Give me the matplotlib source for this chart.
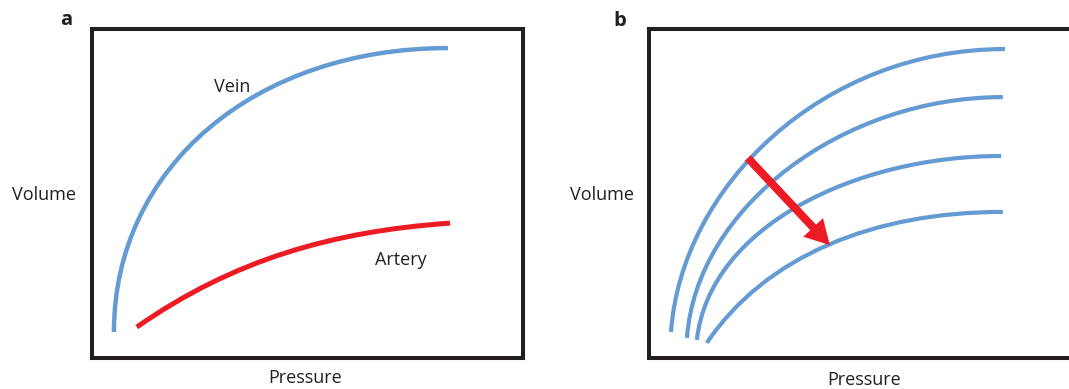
import matplotlib
matplotlib.use("Agg")
import matplotlib.pyplot as plt
from matplotlib.path import Path
from matplotlib.patches import FancyArrowPatch, PathPatch

plt.rcParams['font.family'] = ['Open Sans', 'DejaVu Sans']

BLUE = '#659BD3'
RED = '#ED1C24'
INK = '#231F20'

# Curves read off the picture as cubic Bezier control points
# (start, two handles, end), in % of the frame: pressure across, volume up.
# Panel a
veinP = [5.2, 5.2, 38.0, 82.6]
veinV = [7.9, 58.0, 94.2, 94.2]
arteryP = [10.5, 33.0, 56.0, 83.1]
arteryV = [9.4, 30.0, 38.5, 41.0]

# Panel b: family of compliance curves, most to least compliant
c1P = [5.1, 7.5, 40.0, 82.5]
c1V = [7.9, 52.0, 93.9, 93.9]
c2P = [8.8, 11.0, 45.0, 82.0]
c2V = [6.1, 46.0, 79.3, 79.3]
c3P = [11.1, 14.0, 48.0, 81.6]
c3V = [5.5, 40.0, 61.4, 61.4]
c4P = [13.4, 27.0, 52.0, 82.0]
c4V = [4.6, 31.0, 44.4, 44.4]
curvesB = [(c1P, c1V), (c2P, c2V), (c3P, c3V), (c4P, c4V)]

arrowTail = (22.9, 60.8)
arrowTip = (41.9, 34.3)

W, H = 1069, 389
fig = plt.figure(figsize=(W / 100, H / 100), dpi=100)


def frame(x0, y0, x1, y1):
    ax = fig.add_axes([x0 / W, 1 - y1 / H, (x1 - x0) / W, (y1 - y0) / H])
    ax.set_xlim(0, 100)
    ax.set_ylim(0, 100)
    ax.set_xticks([])
    ax.set_yticks([])
    for s in ax.spines.values():
        s.set_linewidth(2.9)
        s.set_color(INK)
    return ax


def bezier(ax, p, v, color, lw):
    codes = [Path.MOVETO, Path.CURVE4, Path.CURVE4, Path.CURVE4]
    path = Path(list(zip(p, v)), codes)
    ax.add_patch(PathPatch(path, fill=False, edgecolor=color, lw=lw, capstyle='butt'))


axA = frame(91.5, 29, 523, 358)
axB = frame(649, 29, 1080.5, 358)

bezier(axA, veinP, veinV, BLUE, 3.2)
bezier(axA, arteryP, arteryV, RED, 3.6)
axA.text(32.7, 82.5, 'Vein', fontsize=13, color=INK, ha='center', va='center')
axA.text(71.7, 29.8, 'Artery', fontsize=13, color=INK, ha='center', va='center')

for p, v in curvesB:
    bezier(axB, p, v, BLUE, 3.0)

arrow = FancyArrowPatch(arrowTail, arrowTip,
                        arrowstyle='simple,tail_width=0.58,head_width=1.95,head_length=1.75',
                        mutation_scale=10, color=RED, lw=0, shrinkA=0, shrinkB=0, zorder=5)
axB.add_patch(arrow)


def ftext(x, y, s, **kw):
    fig.text(x / W, 1 - y / H, s, ha='center', va='center', color=INK, **kw)


ftext(44, 195, 'Volume', fontsize=13)
ftext(305, 378, 'Pressure', fontsize=13)
ftext(602, 195, 'Volume', fontsize=13)
ftext(864, 380, 'Pressure', fontsize=13)
ftext(66, 20, 'a', fontsize=14.5, fontweight='bold')
ftext(620, 21, 'b', fontsize=14.5, fontweight='bold')

fig.savefig('out.png', dpi=100)
